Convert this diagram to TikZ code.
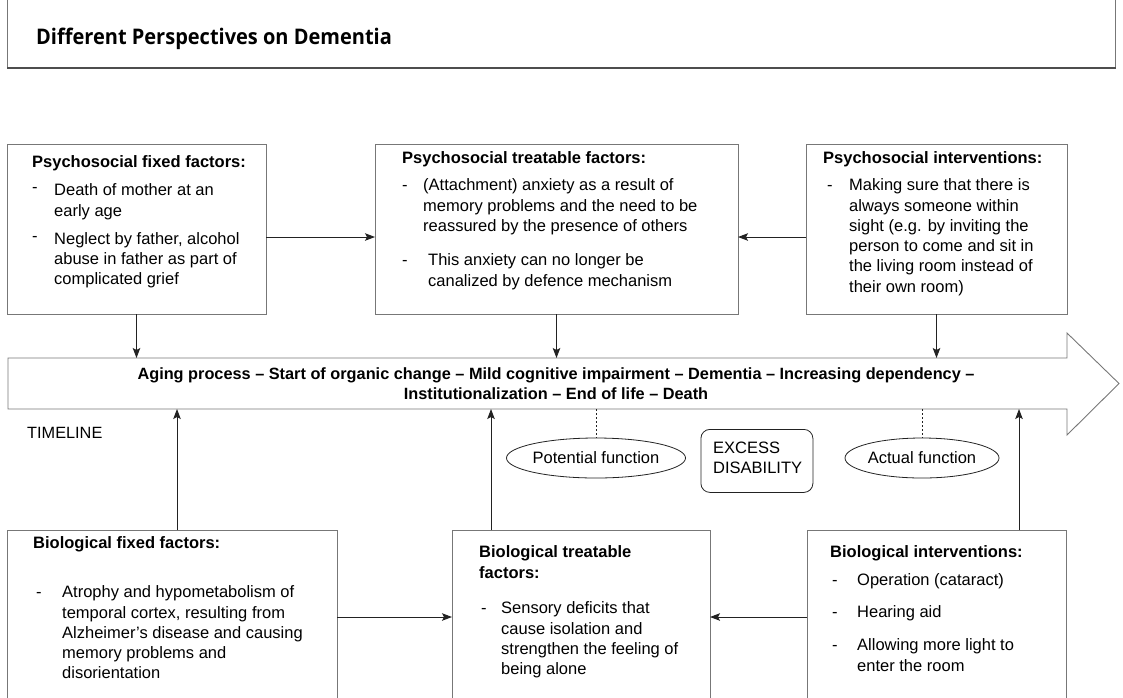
\documentclass[tikz,border=0pt]{standalone}
\usepackage{fontspec}
\setmainfont{Liberation Sans}
\newfontfamily\titlefont[FakeStretch=0.93]{Open Sans}
\usetikzlibrary{arrows.meta,shapes.geometric,calc}
\definecolor{boxgray}{HTML}{777777}
\definecolor{linedark}{HTML}{222222}
\tikzset{
  boxnode/.style={draw=boxgray, line width=0.9pt, rectangle, inner sep=0pt, outer sep=0pt, anchor=north west},
  txt/.style={inner sep=0pt, anchor=north west, font=\fontsize{16.5}{20.3}\selectfont},
  conn/.style={draw=linedark, line width=0.9pt, -{Stealth[length=10pt,width=7.5pt,inset=2pt]}},
  ovalnode/.style={draw=linedark, line width=0.8pt, ellipse, inner sep=0pt, font=\fontsize{16.5}{20.3}\selectfont},
  dotline/.style={draw=linedark, line width=0.8pt, dash pattern=on 2pt off 2pt},
}
\begin{document}
\begin{tikzpicture}[x=1pt,y=-1pt]
\clip (0,0) rectangle (1123,697);
\useasboundingbox (0,0) rectangle (1123,697);
% header
\draw[boxgray, line width=1pt] (7.5,0) -- (7.5,68) (1115.5,0) -- (1115.5,68);
\draw[linedark!80, line width=1.4pt] (7,68) -- (1116,68);
\node[inner sep=0pt, anchor=base west, font=\titlefont\bfseries\fontsize{21.5}{24}\selectfont] (title) at (36,44) {Different Perspectives on Dementia};

% top boxes
\node[boxnode, minimum width=259, minimum height=170] (pf) at (7,144) {};
\node[boxnode, minimum width=363, minimum height=170] (pt) at (375,144) {};
\node[boxnode, minimum width=261, minimum height=170] (pi) at (806,144) {};

\node[txt] (pft) at (32,153.3) {\begin{tabular}{@{}p{22pt}@{}l@{}}
\multicolumn{2}{@{}l@{}}{\bfseries Psychosocial fixed factors:}\\[7.7pt]
\raisebox{3pt}{-} & Death of mother at an\\
 & early age\\[7.7pt]
\raisebox{3pt}{-} & Neglect by father, alcohol\\
 & abuse in father as part of\\
 & complicated grief
\end{tabular}};

\node[txt] (ptt) at (402,149.3) {\begin{tabular}{@{}p{21pt}@{}l@{}}
\multicolumn{2}{@{}l@{}}{\bfseries Psychosocial treatable factors:}\\[6.7pt]
- & (Attachment) anxiety as a result of\\
 & memory problems and the need to be\\
 & reassured by the presence of others\\[14.1pt]
- & \hspace{5pt}This anxiety can no longer be\\
 & \hspace{5pt}canalized by defence mechanism
\end{tabular}};

\node[txt] (pit) at (823,149.3) {\begin{tabular}{@{}p{26pt}@{}l@{}}
\multicolumn{2}{@{}l@{}}{\bfseries Psychosocial interventions:}\\[6.7pt]
\hspace{4pt}- & Making sure that there is\\
 & always someone within\\
 & sight (e.g. by inviting the\\
 & person to come and sit in\\
 & the living room instead of\\
 & their own room)
\end{tabular}};

% timeline
\node[inner sep=0pt, outer sep=0pt, minimum width=1059, minimum height=51, anchor=north west] (tl) at (8,358) {};
\draw[boxgray, line width=0.9pt, line join=miter]
  (tl.north west) -- (tl.north east) -- ($(tl.north east)+(0,-25)$)
  -- ($(tl.east)+(52,0)$) -- ($(tl.south east)+(0,26)$)
  -- (tl.south east) -- (tl.south west) -- cycle;
\node[txt, anchor=north, font=\bfseries\fontsize{16.3}{20.3}\selectfont] (tlt) at (556,364.8) {\begin{tabular}{@{}c@{}}
Aging process -- Start of organic change -- Mild cognitive impairment -- Dementia -- Increasing dependency --\\
Institutionalization -- End of life -- Death
\end{tabular}};
\node[inner sep=0pt, anchor=base west, font=\fontsize{16.3}{20.3}\selectfont] (tlabel) at (27,438.3) {TIMELINE};

\node[ovalnode, minimum width=166, minimum height=40] (pfun) at (596,458) {Potential function};
\node[ovalnode, minimum width=154, minimum height=40] (afun) at (922,458) {Actual function};
\node[draw=linedark, line width=0.8pt, rounded corners=9pt, inner sep=0pt, minimum width=112, minimum height=63, anchor=north west] (exd) at (700.5,429) {};
\node[txt] (exdt) at (713,439) {\begin{tabular}{@{}l@{}}EXCESS\\DISABILITY\end{tabular}};
\draw[dotline] (pfun.north |- tl.south) -- (pfun.north);
\draw[dotline] (afun.north |- tl.south) -- (afun.north);

% bottom boxes
\node[boxnode, minimum width=330, minimum height=200] (bf) at (7,530) {};
\node[boxnode, minimum width=258, minimum height=200] (bt) at (452,530) {};
\node[boxnode, minimum width=259, minimum height=200] (bi) at (807,530) {};

\node[txt] (bft) at (33,534.3) {\begin{tabular}{@{}p{29pt}@{}l@{}}
\multicolumn{2}{@{}l@{}}{\bfseries Biological fixed factors:}\\[28.7pt]
\hspace{3pt}- & Atrophy and hypometabolism of\\
 & temporal cortex, resulting from\\
 & Alzheimer's disease and causing\\
 & memory problems and\\
 & disorientation
\end{tabular}};

\node[txt] (btt) at (479,543.3) {\begin{tabular}{@{}p{22pt}@{}l@{}}
\multicolumn{2}{@{}l@{}}{\bfseries Biological treatable}\\
\multicolumn{2}{@{}l@{}}{\bfseries factors:}\\[15.4pt]
\hspace{2pt}- & Sensory deficits that\\
 & cause isolation and\\
 & strengthen the feeling of\\
 & being alone
\end{tabular}};

\node[txt] (bit) at (830,543.3) {\begin{tabular}{@{}p{27pt}@{}l@{}}
\multicolumn{2}{@{}l@{}}{\bfseries Biological interventions:}\\[7.7pt]
\hspace{2pt}- & Operation (cataract)\\[11.7pt]
\hspace{2pt}- & Hearing aid\\[12.7pt]
\hspace{2pt}- & Allowing more light to\\
 & enter the room
\end{tabular}};

% connectors
\coordinate (ya) at (0,237);
\coordinate (yb) at (0,617);
\draw[conn] (pf.east |- ya) -- (pt.west |- ya);
\draw[conn] (pi.west |- ya) -- (pt.east |- ya);
\draw[conn] (pf.south) -- (pf.south |- tl.north);
\draw[conn] (pt.south) -- (pt.south |- tl.north);
\draw[conn] (pi.south) -- (pi.south |- tl.north);
\draw[conn] ([xshift=5pt]bf.north) -- ([xshift=5pt]bf.north |- tl.south);
\draw[conn] ([xshift=39pt]bt.north west) -- ([xshift=39pt]bt.north west |- tl.south);
\draw[conn] ([xshift=-47pt]bi.north east) -- ([xshift=-47pt]bi.north east |- tl.south);
\draw[conn] (bf.east |- yb) -- (bt.west |- yb);
\draw[conn] (bi.west |- yb) -- (bt.east |- yb);
\end{tikzpicture}
\end{document}
